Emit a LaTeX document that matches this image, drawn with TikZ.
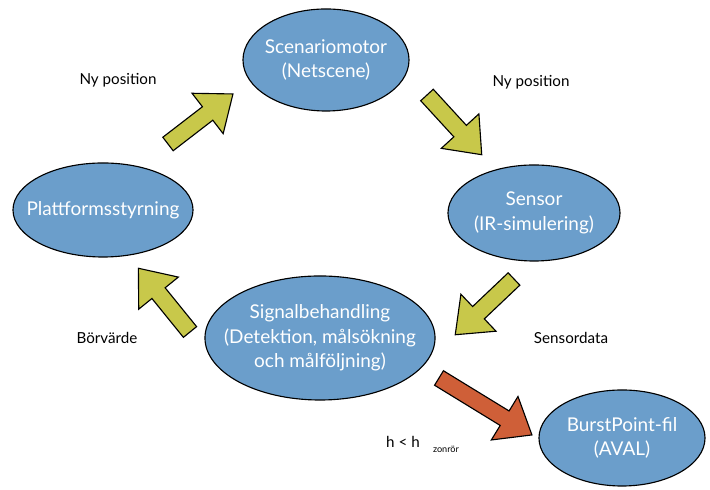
\documentclass[tikz,border=0pt]{standalone}
\usepackage{fontspec}
\setmainfont{Lato}
\usetikzlibrary{shapes.geometric}
\definecolor{blaa}{HTML}{6B9ECB}
\definecolor{gulgron}{HTML}{C8C84A}
\definecolor{tegel}{HTML}{CF5F38}

\begin{document}
\begin{tikzpicture}[x=0.025cm, y=0.025cm,
    modul/.style={ellipse, draw=black, line width=0.8pt, fill=blaa,
                  inner sep=0pt},
    modultext/.style={text=white, align=center,
                  font=\fontsize{13.5}{17.5}\selectfont},
    etikett/.style={font=\fontsize{10.8}{12}\selectfont},
    pics/pil/.style={code={
      \draw[pic actions] (0,-8.5) -- (#1-32,-8.5) -- (#1-32,-25.5)
        -- (#1,0) -- (#1-32,25.5) -- (#1-32,8.5) -- (0,8.5) -- cycle;}},
    gul/.style={fill=gulgron, draw=black, line width=0.8pt},
    rod/.style={fill=tegel, draw=black, line width=0.8pt}
  ]
  \useasboundingbox (0,0) rectangle (710,490);

  % moduler
  \node[modul, minimum width=4.15cm, minimum height=2.55cm] (szen)   at (326,430) {};
  \node[modul, minimum width=4.5cm,  minimum height=2.35cm] (platt)  at (103,280) {};
  \node[modul, minimum width=4.3cm,  minimum height=2.4cm]  (sensor) at (534,277) {};
  \node[modul, minimum width=5.75cm, minimum height=3.1cm]  (signal) at (320,152) {};
  \node[modul, minimum width=4.15cm, minimum height=2.4cm]  (burst)  at (622,52)  {};

  \node[modultext] (szen-t)   at (szen.center)   {Scenariomotor\\(Netscene)};
  \node[modultext] (platt-t)  at (platt.center)  {Plattformsstyrning};
  \node[modultext] (sensor-t) at (sensor.center) {Sensor\\(IR-simulering)};
  \node[modultext] (signal-t) at (signal.center) {Signalbehandling\\(Detektion, målsökning\\och målföljning)};
  \node[modultext] (burst-t)  at (burst.center)  {BurstPoint-fil\\(AVAL)};

  % blockpilar
  \pic[gul, rotate=37.6]   at (168,346) {pil=82};
  \pic[gul, rotate=-47.5]  at (427,395) {pil=81};
  \pic[gul, rotate=-136.5] at (514,211) {pil=81};
  \pic[gul, rotate=129]    at (190,158) {pil=82};
  \pic[rod, rotate=-31.5]  at (439,112) {pil=109};

  % etiketter
  \node[etikett] (nyv) at (118,410) {Ny position};
  \node[etikett] (nyh) at (531,408) {Ny position};
  \node[etikett] (bor) at (107,152) {Börvärde};
  \node[etikett] (sdata) at (571,152) {Sensordata};
  \node[etikett] (hvillkor) at (403,48) {h < h};
  \node[font=\fontsize{6.5}{8}\selectfont] (zon) at (446,41) {zonrör};
\end{tikzpicture}
\end{document}
